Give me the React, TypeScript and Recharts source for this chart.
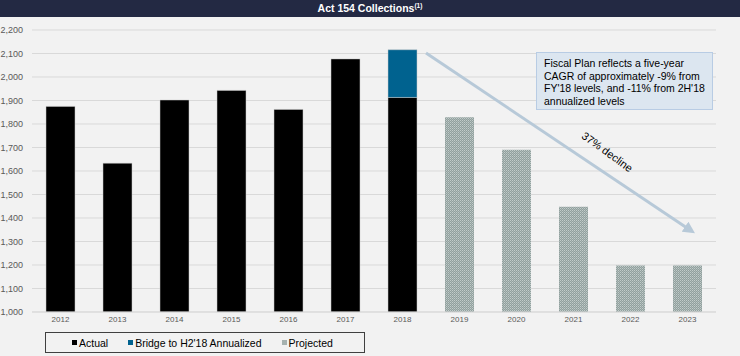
import { Bar, BarChart, CartesianGrid, XAxis, YAxis } from 'recharts';

const years = ['2012', '2013', '2014', '2015', '2016', '2017', '2018', '2019', '2020', '2021', '2022', '2023'];
const actual = [1875, 1633, 1902, 1943, 1862, 2077, 1913, null, null, null, null, null];
const bridge = [null, null, null, null, null, null, 203, null, null, null, null, null];
const projected = [null, null, null, null, null, null, null, 1829, 1690, 1448, 1198, 1198];
const yTicks = [1000, 1100, 1200, 1300, 1400, 1500, 1600, 1700, 1800, 1900, 2000, 2100, 2200];

const seriesNames = ['Actual', "Bridge to H2'18 Annualized", 'Projected'];
const noteLines = [
  'Fiscal Plan reflects a five-year',
  'CAGR of approximately -9% from',
  "FY'18 levels, and -11% from 2H'18",
  'annualized levels',
];

const data = years.map((year, i) => ({
  year,
  actual: actual[i],
  bridge: bridge[i],
  projected: projected[i],
}));

const FONT = '"Liberation Sans", Arial, sans-serif';

export default function App() {
  const legendColors = ['#000000', '#00628f', '#a6b2b0'];
  return (
    <div
      style={{
        position: 'absolute',
        left: 0,
        top: 0,
        width: 740,
        height: 356,
        background: '#f2f2f2',
        fontFamily: FONT,
        overflow: 'hidden',
      }}
    >
      {/* title bar */}
      <div
        style={{
          height: 17,
          background: '#232943',
          color: '#fff',
          fontWeight: 'bold',
          fontSize: 10.5,
          lineHeight: '17px',
          textAlign: 'center',
          fontFamily: '"Liberation Sans Narrow", "Arial Narrow", ' + FONT,
        }}
      >
        Act 154 Collections<sup style={{ fontSize: 6.5, verticalAlign: 'top', lineHeight: '12px' }}>(1)</sup>
      </div>

      <div style={{ position: 'absolute', left: 0, top: 0 }}>
        <BarChart
          width={740}
          height={356}
          data={data}
          margin={{ top: 30, right: 24, bottom: 0, left: 0 }}
          barSize={29}
        >
          <defs>
            <pattern id='dots' width='2' height='2' patternUnits='userSpaceOnUse'>
              <rect width='2' height='2' fill='#91a09e' />
              <rect width='1' height='1' fill='#c2ccca' />
              <rect x='1' y='1' width='1' height='1' fill='#acb8b6' />
            </pattern>
          </defs>
          <CartesianGrid vertical={false} stroke='#d9d9d9' />
          <XAxis
            dataKey='year'
            height={44}
            tickLine={false}
            tickSize={0}
            tickMargin={4}
            axisLine={{ stroke: '#d9d9d9' }}
            tick={{ fontSize: 8, fill: '#595959', fontFamily: FONT }}
          />
          <YAxis
            width={32}
            domain={[1000, 2200]}
            ticks={yTicks}
            allowDataOverflow
            tickLine={false}
            axisLine={false}
            tickSize={0}
            tickMargin={9}
            tickFormatter={(v) => v.toLocaleString('en-US')}
            tick={{ fontSize: 9, fill: '#595959', fontFamily: FONT }}
          />
          <Bar dataKey='actual' stackId='a' fill='#000000' stroke='#c8c8c8' strokeWidth={0.5} isAnimationActive={false} />
          <Bar dataKey='bridge' stackId='a' fill='#00628f' stroke='#c8c8c8' strokeWidth={0.5} isAnimationActive={false} />
          <Bar dataKey='projected' stackId='a' fill='url(#dots)' isAnimationActive={false} />
        </BarChart>
      </div>

      {/* arrow + decline label */}
      <svg width={740} height={356} style={{ position: 'absolute', left: 0, top: 0, pointerEvents: 'none' }}>
        <defs>
          <marker id='ah' markerWidth='4' markerHeight='4' refX='2' refY='2' orient='auto'>
            <path d='M0,0 L4,2 L0,4 Z' fill='#b7c9d8' />
          </marker>
        </defs>
        <line x1={426} y1={53} x2={690} y2={230} stroke='#b7c9d8' strokeWidth={3} markerEnd='url(#ah)' />
        <text
          x={605}
          y={155}
          fontSize={11}
          fill='#000'
          fontFamily={FONT}
          textAnchor='middle'
          transform='rotate(36 605 155)'
        >
          37% decline
        </text>
      </svg>

      {/* note box */}
      <div
        style={{
          position: 'absolute',
          left: 536,
          top: 52,
          width: 177,
          height: 58,
          background: '#dce6f0',
          border: '1.5px solid #b8cce4',
          fontSize: 10.5,
          lineHeight: '12.7px',
          padding: '4px 0 0 7px',
          boxSizing: 'border-box',
          color: '#000',
        }}
      >
        {noteLines.map((l) => (
          <div key={l} style={{ whiteSpace: 'nowrap' }}>{l}</div>
        ))}
      </div>

      {/* legend */}
      <div
        style={{
          position: 'absolute',
          left: 45,
          top: 332,
          width: 320,
          height: 21,
          border: '1px solid #404040',
          boxSizing: 'border-box',
          display: 'flex',
          alignItems: 'center',
          fontSize: 10.5,
          color: '#000',
        }}
      >
        {seriesNames.map((name, i) => (
          <div
            key={name}
            style={{ display: 'flex', alignItems: 'center', marginLeft: i === 0 ? 26 : 20 }}
          >
            <span
              style={{ width: 5, height: 5, background: legendColors[i], marginRight: 2, display: 'inline-block' }}
            />
            {name}
          </div>
        ))}
      </div>
    </div>
  );
}
